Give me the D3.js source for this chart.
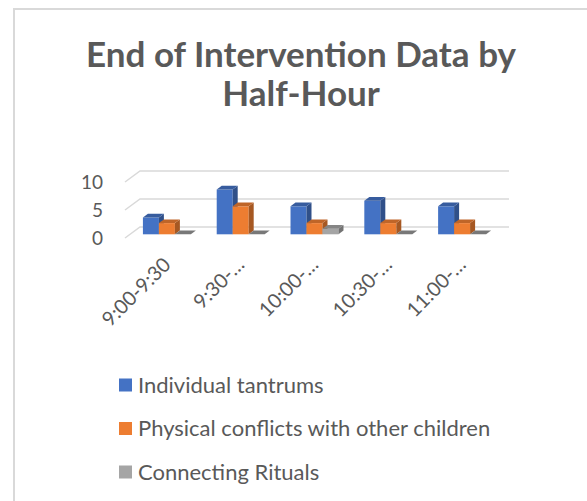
<!DOCTYPE html>
<html>
<head>
<meta charset="utf-8">
<script src="https://cdn.jsdelivr.net/npm/d3@7"></script>
<style>
  body { margin: 0; background: #fff; }
  text { font-family: Lato, 'Open Sans', sans-serif; fill: #595959; }
</style>
</head>
<body>
<svg></svg>
<script>
// data
var categories = ['9:00-9:30', '9:30-\u2026', '10:00-\u2026', '10:30-\u2026', '11:00-\u2026'];
var seriesNames = ['Individual tantrums', 'Physical conflicts with other children', 'Connecting Rituals'];
var tantrums = [3, 8, 5, 6, 5];
var conflicts = [2, 5, 2, 2, 2];
var rituals = [0, 0, 1, 0, 0];
var yTicks = [0, 5, 10];
var colors = ['#4472C4', '#ED7D31', '#A5A5A5'];

var seriesValues = [tantrums, conflicts, rituals];

var width = 587;
var height = 501;

// 3d look: floor depth and bar depth
var depthX = 15, depthY = -11;
var barOffX = 5, barOffY = -3.7;
var barDX = 5, barDY = -3.7;

var svg = d3.select('svg')
  .attr('width', width)
  .attr('height', height);

// chart frame (only left and top edge visible)
svg.append('rect')
  .attr('x', 14).attr('y', 9)
  .attr('width', 700).attr('height', 700)
  .attr('fill', 'none')
  .attr('stroke', '#d9d9d9')
  .attr('stroke-width', 2);

// Title
var title = svg.append('text')
  .attr('x', 301)
  .attr('text-anchor', 'middle')
  .style('font-size', '35px')
  .style('font-weight', 'bold');
title.append('tspan').attr('x', 301).attr('y', 67).text('End of Intervention Data by');
title.append('tspan').attr('x', 301).attr('y', 106).text('Half-Hour');

var scaleY = d3.scaleLinear()
  .domain([0, 10])
  .range([238, 182]);

var scaleX = d3.scaleBand()
  .domain(categories)
  .range([125, 494])
  .paddingInner(0.35)
  .paddingOuter(0.175);

var scaleSeries = d3.scaleBand()
  .domain(d3.range(seriesNames.length))
  .range([0, scaleX.bandwidth()]);

// gridlines: side wall slant + back wall line
var grid = svg.append('g');
yTicks.forEach(function (t) {
  var y = scaleY(t);
  grid.append('polyline')
    .attr('points', [[125, y], [125 + depthX, y + depthY], [509, y + depthY]].join(' '))
    .attr('fill', 'none')
    .attr('stroke', '#d9d9d9')
    .attr('stroke-width', 1.5);
});

// y axis labels
var yAxis = d3.axisLeft(scaleY)
  .tickValues(yTicks)
  .tickSize(0)
  .tickPadding(0);

svg.append('g')
  .attr('transform', 'translate(103, 0)')
  .call(yAxis)
  .call(function (g) { g.select('.domain').remove(); })
  .selectAll('text')
    .style('font-size', '19px')
    .style('font-family', 'Lato, sans-serif')
    .attr('fill', '#595959')
    .attr('dy', '0.35em');

// bars
var bars = [];
categories.forEach(function (c, ci) {
  seriesValues.forEach(function (vals, si) {
    bars.push({ cat: c, s: si, v: vals[ci] });
  });
});

var w = scaleSeries.bandwidth();
var barG = svg.append('g');

bars.forEach(function (d) {
  var x = scaleX(d.cat) + scaleSeries(d.s) + barOffX;
  var yb = scaleY(0) + barOffY;
  var yt = scaleY(d.v) + barOffY;
  var base = d3.color(colors[d.s]);
  var g = barG.append('g');

  if (d.v > 0) {
    // front face
    g.append('rect')
      .attr('x', x).attr('y', yt)
      .attr('width', w).attr('height', yb - yt)
      .attr('fill', base.formatHex());
    // side face
    g.append('polygon')
      .attr('points', [[x + w, yt], [x + w + barDX, yt + barDY], [x + w + barDX, yb + barDY], [x + w, yb]].join(' '))
      .attr('fill', base.darker(1.0).formatHex());
  }
  // top face
  g.append('polygon')
    .attr('points', [[x, yt], [x + barDX, yt + barDY], [x + w + barDX, yt + barDY], [x + w, yt]].join(' '))
    .attr('fill', base.darker(d.v > 0 ? 0.6 : 0.9).formatHex());
});

// category labels, rotated
svg.append('g')
  .selectAll('text')
  .data(categories)
  .enter()
  .append('text')
    .attr('transform', function (d) {
      var cx = scaleX(d) + scaleX.bandwidth() / 2 + barOffX + 5;
      return 'translate(' + cx + ', 266) rotate(-45)';
    })
    .attr('text-anchor', 'end')
    .style('font-size', '20px')
    .text(function (d) { return d; });

// legend
var legend = svg.append('g')
  .selectAll('g')
  .data(seriesNames)
  .enter()
  .append('g')
    .attr('transform', function (d, i) { return 'translate(119, ' + (385 + i * 43.5) + ')'; });

legend.append('rect')
  .attr('x', 0).attr('y', -6.5)
  .attr('width', 13).attr('height', 13)
  .attr('fill', function (d, i) { return colors[i]; });

legend.append('text')
  .attr('x', 19)
  .attr('dy', '0.35em')
  .style('font-size', '22px')
  .text(function (d) { return d; });
</script>
</body>
</html>
